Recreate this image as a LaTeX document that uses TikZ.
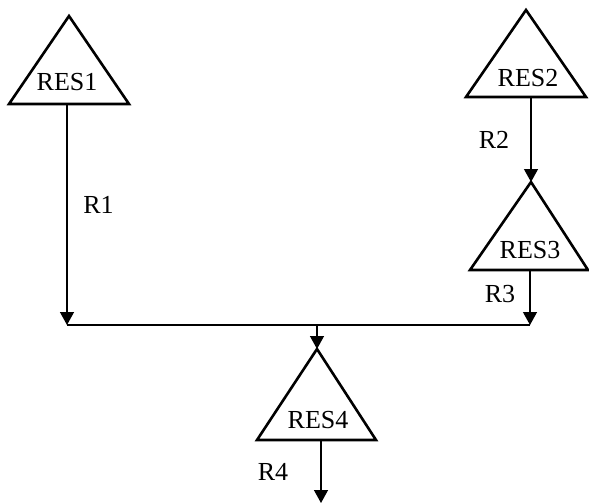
\documentclass[tikz,border=0pt]{standalone}
\usepackage{fontspec}
\setmainfont{Liberation Serif}
\usetikzlibrary{arrows.meta}
\tikzset{
	tank/.style={line width=2.6pt, line join=miter},
	pipe/.style={line width=1.3pt},
	flow/.style={pipe, -{Triangle[width=14pt,length=13pt]}},
	lbl/.style={anchor=base, inner sep=0pt, font=\fontsize{26}{31}\selectfont},
}
\begin{document}
\begin{tikzpicture}[x=1pt,y=-1pt]
	\useasboundingbox (0,0) rectangle (589,503);
	%reservoirs
	\coordinate (res1top) at (69,16);
	\coordinate (res2top) at (526,10);
	\coordinate (res3top) at (531,182);
	\coordinate (res4top) at (317,349);
	\draw[tank] (res1top) -- (9,104) -- (129,104) -- cycle;
	\draw[tank] (res2top) -- (466,97) -- (586,97) -- cycle;
	\draw[tank] (res3top) -- (470,270) -- (588,270) -- cycle;
	\draw[tank] (res4top) -- (257,440) -- (376,440) -- cycle;
	\node[lbl] (res1) at (67,90) {RES1};
	\node[lbl] (res2) at (528,86) {RES2};
	\node[lbl] (res3) at (530,258) {RES3};
	\node[lbl] (res4) at (318,428) {RES4};
	%outlets
	\coordinate (res1out) at (67,104);
	\coordinate (res2out) at (531,97);
	\coordinate (res3out) at (530,270);
	\coordinate (res4out) at (321,440);
	%junction
	\coordinate (busl) at (67,325);
	\coordinate (busr) at (530,325);
	\coordinate (busm) at (317,325);
	\coordinate (sink) at (321,503);
	%flows
	\draw[flow] (res1out) -- (busl);
	\draw[flow] (res2out) -- (res3top);
	\draw[flow] (res3out) -- (busr);
	\draw[pipe] (busl) -- (busr);
	\draw[flow] (busm) -- (res4top);
	\draw[flow] (res4out) -- (sink);
	%text
	\node[lbl] (r1) at (98.5,213) {R1};
	\node[lbl] (r2) at (494,148) {R2};
	\node[lbl] (r3) at (500,302) {R3};
	\node[lbl] (r4) at (273,480) {R4};
\end{tikzpicture}
\end{document}
